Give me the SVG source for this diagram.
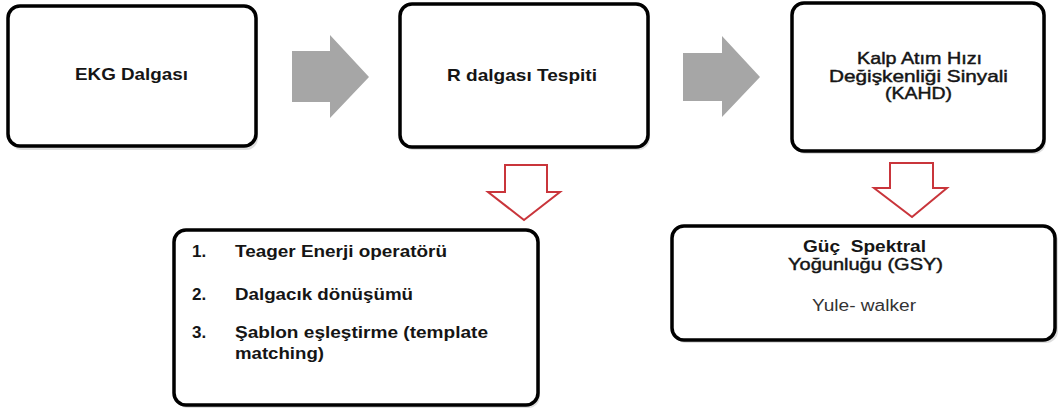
<svg xmlns="http://www.w3.org/2000/svg" width="1058" height="409" viewBox="0 0 1058 409">
<defs>
<style>
.box{fill:#fff;stroke:#000;stroke-width:3.5}
.shadow{fill:#c8c8c8;stroke:none;opacity:0.6}
.t{font-family:"Liberation Sans",Arial,sans-serif;font-size:17px;font-weight:bold;fill:#151515}
.m{font-family:"Liberation Sans",Arial,sans-serif;font-size:17px;fill:#151515;stroke:#151515;stroke-width:0.45}
.tn{font-family:"Liberation Sans",Arial,sans-serif;font-size:16px;fill:#333}
.garrow{fill:#a6a6a6}
.rarrow{fill:#fff;stroke:#c9353b;stroke-width:2;stroke-linejoin:miter}
</style>
</defs>
<g id="connectors">
<polygon class="garrow" points="292,51 330,51 330,35 369,77 330,118 330,102 292,102"/>
<polygon class="garrow" points="683,53 722,53 722,36 760,77 722,117 722,101 683,101"/>
<polygon class="rarrow" points="505,165 547,165 547,192 560,192 524,220 488,192 505,192"/>
<polygon class="rarrow" points="890,163 933,163 933,188 947,188 912,217 874,188 890,188"/>
</g>
<g id="node-ekg">
<rect class="shadow" x="10" y="9" width="248" height="141" rx="12"/>
<rect class="box" x="8" y="6" width="248" height="140" rx="12"/>
<text class="t" x="75" y="80" textLength="113" lengthAdjust="spacingAndGlyphs">EKG Dalgası</text>
</g>
<g id="node-r">
<rect class="shadow" x="402" y="7" width="248" height="143" rx="12"/>
<rect class="box" x="400" y="4" width="248" height="143" rx="12"/>
<text class="t" x="447" y="81" textLength="150" lengthAdjust="spacingAndGlyphs">R dalgası Tespiti</text>
</g>
<g id="node-kahd">
<rect class="shadow" x="794" y="6" width="252" height="148" rx="12"/>
<rect class="box" x="792" y="3" width="252" height="148" rx="12"/>
<text class="m" x="857" y="64" textLength="125" lengthAdjust="spacingAndGlyphs">Kalp Atım Hızı</text>
<text class="m" x="829" y="81.5" textLength="179" lengthAdjust="spacingAndGlyphs">Değişkenliği Sinyali</text>
<text class="m" x="885" y="99" textLength="67" lengthAdjust="spacingAndGlyphs">(KAHD)</text>
</g>
<g id="node-list">
<rect class="shadow" x="176" y="233" width="364" height="175" rx="12"/>
<rect class="box" x="174" y="230" width="364" height="175" rx="12"/>
<text class="t" x="192" y="257">1.</text>
<text class="t" x="235" y="257" textLength="212" lengthAdjust="spacingAndGlyphs">Teager Enerji operatörü</text>
<text class="t" x="192" y="300">2.</text>
<text class="t" x="235" y="300" textLength="178" lengthAdjust="spacingAndGlyphs">Dalgacık dönüşümü</text>
<text class="t" x="192" y="338">3.</text>
<text class="t" x="235" y="338" textLength="253" lengthAdjust="spacingAndGlyphs">Şablon eşleştirme (template</text>
<text class="t" x="235" y="359" textLength="89" lengthAdjust="spacingAndGlyphs">matching)</text>
</g>
<g id="node-gsy">
<rect class="shadow" x="674" y="229" width="384" height="114" rx="12"/>
<rect class="box" x="672" y="226" width="383" height="114" rx="12"/>
<text class="t" x="803" y="252" textLength="123" lengthAdjust="spacingAndGlyphs" style="white-space:pre">Güç  Spektral</text>
<text class="m" x="788" y="270" textLength="155" lengthAdjust="spacingAndGlyphs">Yoğunluğu (GSY)</text>
<text class="tn" x="812" y="311" textLength="104" lengthAdjust="spacingAndGlyphs">Yule- walker</text>
</g>
</svg>
